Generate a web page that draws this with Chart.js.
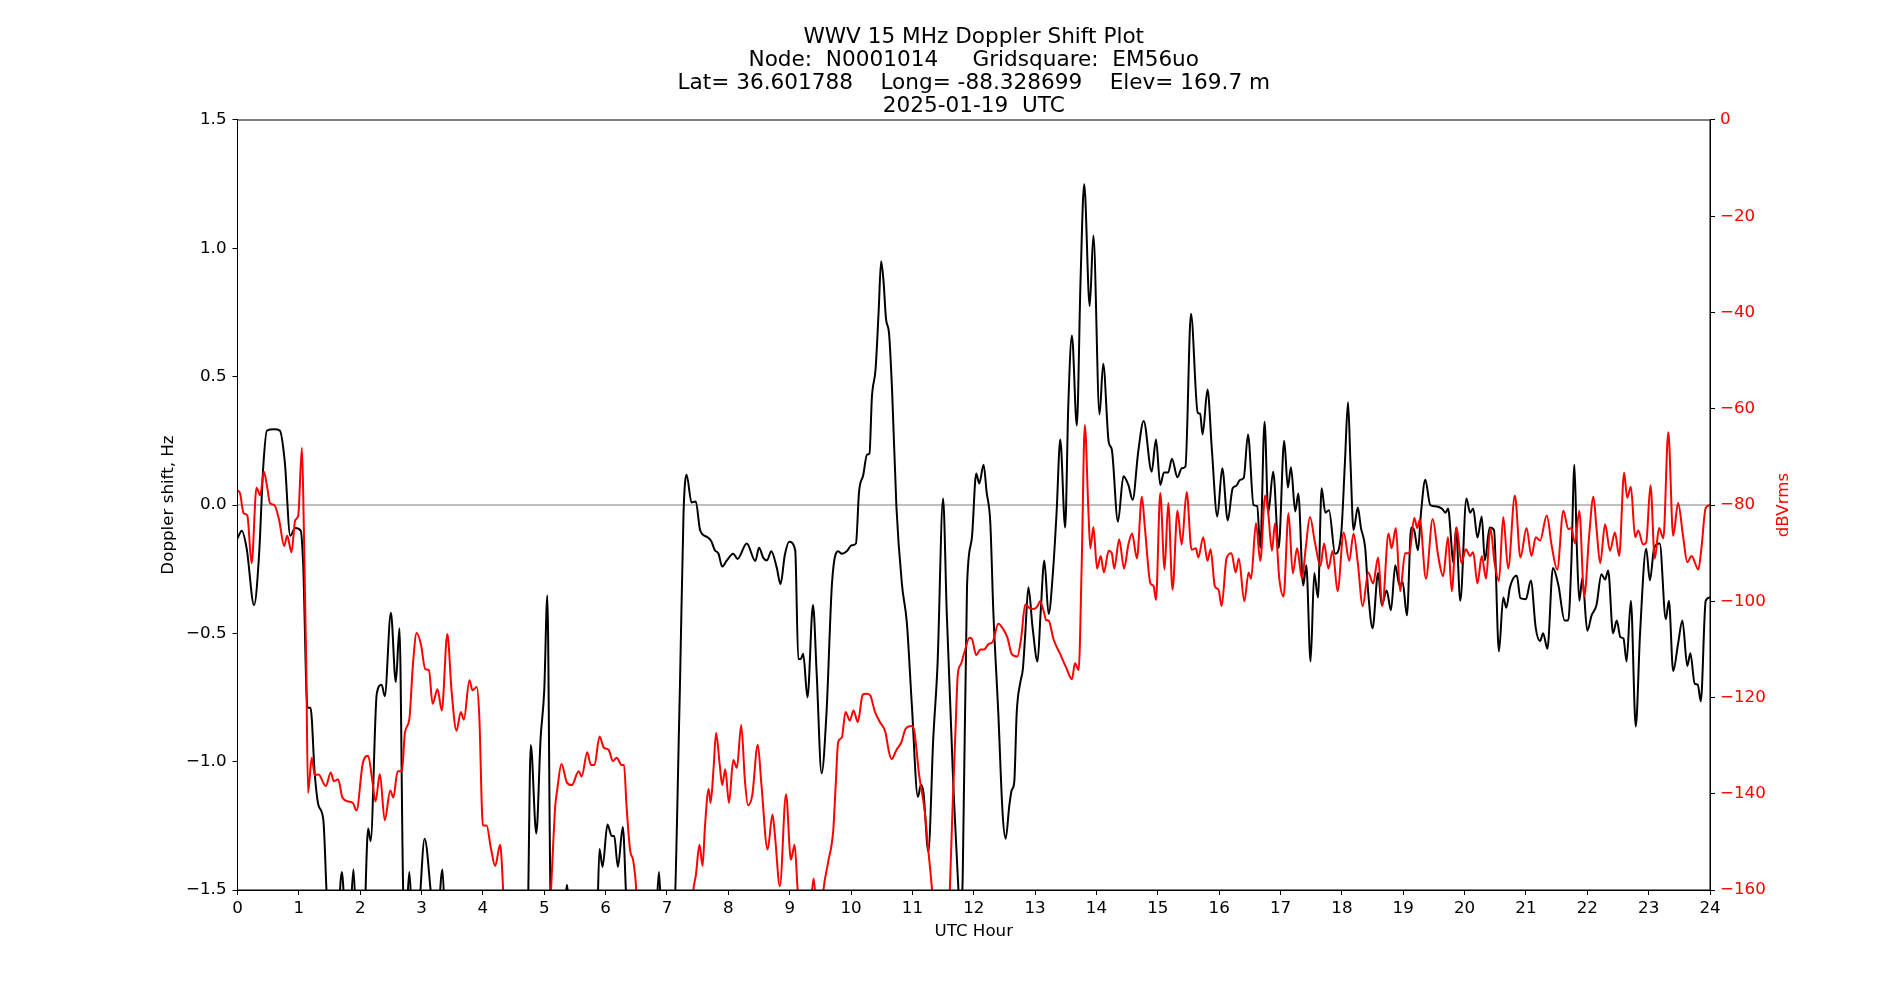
<!DOCTYPE html>
<html>
<head>
<meta charset="utf-8">
<title>WWV 15 MHz Doppler Shift Plot</title>
<script src="https://cdn.jsdelivr.net/npm/chart.js@4.4.1/dist/chart.umd.min.js"></script>
<style>
  html, body { margin: 0; padding: 0; background: #fff; }
  canvas { display: block; }
</style>
</head>
<body>
<canvas id="myChart" width="1900" height="1000"></canvas>
<script>
const titleLines = [
    'WWV 15 MHz Doppler Shift Plot',
    'Node:  N0001014     Gridsquare:  EM56uo',
    'Lat= 36.601788    Long= -88.328699    Elev= 169.7 m',
    '2025-01-19  UTC'
];

const hourTicks = [0, 1, 2, 3, 4, 5, 6, 7, 8, 9, 10, 11, 12, 13, 14, 15, 16, 17, 18, 19, 20, 21, 22, 23, 24];

// Doppler shift (Hz), black trace, left axis
const dopplerHours = [
    0.0, 0.07, 0.15, 0.27, 0.35, 0.42, 0.48, 0.6, 0.69, 0.77, 0.86, 0.94, 1.03, 1.07, 1.14, 1.19, 1.26, 1.32, 1.40, 1.45,
    1.5, 1.62, 1.70, 1.78, 1.83, 1.89, 1.95, 2.05, 2.13, 2.17, 2.27, 2.35, 2.40, 2.50, 2.58, 2.64, 2.70, 2.74, 2.80, 2.86,
    2.95, 3.05, 3.17, 3.25, 3.34, 3.40, 4.72, 4.78, 4.87, 4.94, 5.0, 5.05, 5.1, 5.15, 5.32, 5.37, 5.42, 5.85, 5.9, 5.95,
    6.03, 6.1, 6.14, 6.2, 6.28, 6.34, 6.4, 6.82, 6.87, 6.92, 7.1, 7.21, 7.27, 7.32, 7.40, 7.47, 7.54, 7.65, 7.72, 7.78,
    7.84, 7.9, 7.97, 8.08, 8.15, 8.3, 8.44, 8.5, 8.57, 8.63, 8.70, 8.79, 8.85, 8.92, 8.99, 9.09, 9.14, 9.18, 9.22, 9.29,
    9.38, 9.44, 9.52, 9.6, 9.69, 9.79, 9.85, 9.93, 10.01, 10.08, 10.13, 10.2, 10.26, 10.3, 10.34, 10.4, 10.45, 10.49, 10.53, 10.57,
    10.62, 10.67, 10.74, 10.83, 10.91, 10.99, 11.09, 11.14, 11.18, 11.26, 11.34, 11.41, 11.5, 11.56, 11.67, 11.74, 11.78, 11.82, 11.89, 11.97,
    12.04, 12.09, 12.16, 12.21, 12.27, 12.32, 12.4, 12.47, 12.52, 12.58, 12.62, 12.66, 12.70, 12.76, 12.8, 12.84, 12.89, 12.96, 13.04, 13.09,
    13.15, 13.22, 13.29, 13.35, 13.41, 13.49, 13.54, 13.6, 13.68, 13.74, 13.8, 13.89, 13.95, 14.05, 14.11, 14.2, 14.25, 14.35, 14.44, 14.52,
    14.59, 14.68, 14.77, 14.9, 14.97, 15.04, 15.1, 15.17, 15.23, 15.32, 15.39, 15.45, 15.54, 15.65, 15.69, 15.73, 15.81, 15.88, 15.97, 16.05,
    16.14, 16.22, 16.28, 16.34, 16.4, 16.47, 16.56, 16.62, 16.67, 16.74, 16.8, 16.88, 16.97, 17.06, 17.12, 17.17, 17.24, 17.29, 17.37, 17.42,
    17.49, 17.55, 17.61, 17.67, 17.73, 17.79, 17.89, 17.99, 18.05, 18.1, 18.14, 18.19, 18.26, 18.31, 18.38, 18.43, 18.5, 18.59, 18.65, 18.73,
    18.8, 18.87, 18.94, 18.99, 19.06, 19.13, 19.18, 19.24, 19.29, 19.36, 19.44, 19.52, 19.63, 19.69, 19.73, 19.82, 19.86, 19.93, 20.03, 20.09,
    20.14, 20.21, 20.28, 20.33, 20.41, 20.48, 20.56, 20.63, 20.68, 20.74, 20.85, 20.91, 21.0, 21.08, 21.16, 21.23, 21.28, 21.35, 21.44, 21.53,
    21.63, 21.69, 21.74, 21.79, 21.83, 21.87, 21.92, 22.0, 22.07, 22.15, 22.23, 22.29, 22.34, 22.42, 22.48, 22.54, 22.59, 22.64, 22.71, 22.79,
    22.86, 22.96, 23.02, 23.09, 23.18, 23.28, 23.33, 23.4, 23.48, 23.55, 23.63, 23.68, 23.75, 23.8, 23.85, 23.93, 24.0
];
const dopplerShift = [
    -0.13, -0.10, -0.17, -0.39, -0.20, 0.15, 0.29, 0.295, 0.29, 0.17, -0.12, -0.09, -0.10, -0.23, -0.79, -0.79, -1.05, -1.17, -1.23, -1.5,
    -1.75, -1.7, -1.43, -1.7, -1.65, -1.42, -1.7, -1.7, -1.26, -1.31, -0.735, -0.70, -0.745, -0.42, -0.69, -0.48, -1.5, -1.65, -1.43, -1.65,
    -1.6, -1.30, -1.55, -1.65, -1.42, -1.7, -1.7, -0.935, -1.28, -0.91, -0.72, -0.353, -1.5, -1.7, -1.6, -1.48, -1.6, -1.7, -1.34, -1.41,
    -1.245, -1.29, -1.29, -1.41, -1.255, -1.55, -1.7, -1.6, -1.43, -1.65, -1.65, -0.72, -0.03, 0.118, 0.01, 0.014, -0.098, -0.124, -0.14, -0.176,
    -0.19, -0.24, -0.218, -0.19, -0.21, -0.15, -0.218, -0.167, -0.206, -0.216, -0.18, -0.245, -0.308, -0.196, -0.143, -0.176, -0.6, -0.6, -0.58, -0.75,
    -0.39, -0.657, -1.045, -0.81, -0.304, -0.18, -0.19, -0.18, -0.157, -0.15, 0.05, 0.118, 0.196, 0.2, 0.42, 0.53, 0.755, 0.95, 0.87, 0.725,
    0.667, 0.44, -0.01, -0.31, -0.46, -0.775, -1.137, -1.09, -1.12, -1.35, -0.91, -0.62, 0.025, -0.42, -1.11, -1.45, -1.6, -1.45, -0.32, -0.127,
    0.123, 0.084, 0.157, 0.05, -0.07, -0.42, -0.81, -1.2, -1.3, -1.17, -1.11, -1.08, -0.81, -0.69, -0.64, -0.5, -0.32, -0.48, -0.61, -0.42,
    -0.216, -0.425, -0.265, -0.03, 0.255, -0.088, 0.38, 0.66, 0.31, 0.87, 1.25, 0.775, 1.05, 0.353, 0.55, 0.245, 0.216, -0.065, 0.112, 0.078,
    0.02, 0.206, 0.327, 0.13, 0.255, 0.078, 0.127, 0.127, 0.18, 0.108, 0.143, 0.15, 0.745, 0.36, 0.355, 0.275, 0.45, 0.22, -0.045, 0.143,
    -0.06, 0.065, 0.075, 0.098, 0.105, 0.275, 0.0, -0.005, -0.167, 0.324, -0.03, 0.13, -0.167, 0.25, 0.068, 0.147, -0.025, 0.045, -0.314, -0.235,
    -0.61, -0.265, -0.36, 0.065, -0.03, -0.02, -0.19, -0.108, 0.167, 0.4, 0.167, -0.098, -0.01, -0.088, -0.167, -0.343, -0.48, -0.265, -0.39, -0.333,
    -0.41, -0.235, -0.314, -0.3, -0.43, -0.088, -0.1, -0.176, -0.03, 0.098, 0.0, -0.005, -0.014, -0.03, -0.014, -0.225, -0.09, -0.373, 0.025, -0.03,
    -0.014, -0.127, -0.045, -0.216, -0.088, -0.098, -0.57, -0.36, -0.4, -0.32, -0.275, -0.363, -0.367, -0.294, -0.48, -0.53, -0.5, -0.56, -0.245, -0.314,
    -0.45, -0.45, -0.225, 0.157, -0.167, -0.373, -0.284, -0.49, -0.43, -0.39, -0.27, -0.29, -0.255, -0.5, -0.45, -0.515, -0.52, -0.61, -0.373, -0.863,
    -0.5, -0.17, -0.294, -0.167, -0.15, -0.445, -0.373, -0.647, -0.54, -0.45, -0.627, -0.578, -0.696, -0.7, -0.765, -0.373, -0.36
];

// received level (dBVrms), red trace, right axis
const powerHours = [
    0.0, 0.04, 0.1, 0.16, 0.23, 0.31, 0.37, 0.43, 0.48, 0.53, 0.6, 0.68, 0.76, 0.81, 0.88, 0.94, 0.99, 1.05, 1.08, 1.12,
    1.15, 1.21, 1.26, 1.32, 1.44, 1.52, 1.57, 1.64, 1.71, 1.81, 1.88, 1.94, 2.04, 2.13, 2.19, 2.25, 2.32, 2.40, 2.49, 2.54,
    2.61, 2.68, 2.73, 2.80, 2.86, 2.92, 2.99, 3.06, 3.12, 3.18, 3.26, 3.33, 3.42, 3.49, 3.57, 3.64, 3.69, 3.78, 3.83, 3.9,
    3.94, 4.0, 4.06, 4.13, 4.2, 4.28, 4.33, 4.38, 5.05, 5.11, 5.18, 5.21, 5.28, 5.37, 5.45, 5.56, 5.61, 5.7, 5.76, 5.82,
    5.9, 5.97, 6.05, 6.12, 6.18, 6.26, 6.30, 6.34, 6.40, 6.45, 6.50, 6.56, 7.36, 7.43, 7.47, 7.53, 7.58, 7.62, 7.68, 7.71,
    7.76, 7.8, 7.86, 7.9, 7.95, 8.01, 8.08, 8.14, 8.21, 8.27, 8.32, 8.39, 8.48, 8.54, 8.64, 8.72, 8.76, 8.84, 8.94, 9.02,
    9.08, 9.13, 9.2, 9.33, 9.39, 9.44, 9.5, 9.55, 9.63, 9.71, 9.75, 9.79, 9.85, 9.91, 9.98, 10.04, 10.11, 10.19, 10.25, 10.31,
    10.39, 10.47, 10.56, 10.62, 10.66, 10.74, 10.82, 10.89, 10.99, 11.03, 11.11, 11.2, 11.26, 11.32, 11.38, 11.56, 11.61, 11.65, 11.7, 11.74,
    11.79, 11.85, 11.93, 11.97, 12.04, 12.11, 12.17, 12.24, 12.31, 12.4, 12.48, 12.55, 12.62, 12.71, 12.77, 12.84, 12.91, 12.98, 13.04, 13.08,
    13.14, 13.18, 13.22, 13.3, 13.41, 13.51, 13.6, 13.65, 13.71, 13.76, 13.81, 13.87, 13.9, 13.95, 14.01, 14.07, 14.12, 14.2, 14.25, 14.29,
    14.37, 14.45, 14.52, 14.58, 14.66, 14.74, 14.79, 14.88, 14.93, 14.97, 15.04, 15.11, 15.17, 15.24, 15.32, 15.39, 15.47, 15.55, 15.62, 15.66,
    15.74, 15.81, 15.86, 15.93, 15.99, 16.04, 16.12, 16.2, 16.27, 16.32, 16.41, 16.48, 16.52, 16.6, 16.67, 16.75, 16.8, 16.86, 16.91, 16.98,
    17.05, 17.13, 17.2, 17.27, 17.35, 17.41, 17.48, 17.56, 17.65, 17.71, 17.78, 17.85, 17.93, 18.03, 18.12, 18.19, 18.26, 18.34, 18.43, 18.51,
    18.59, 18.66, 18.76, 18.81, 18.88, 18.95, 19.03, 19.1, 19.18, 19.23, 19.27, 19.37, 19.48, 19.57, 19.65, 19.73, 19.79, 19.87, 19.95, 20.02,
    20.09, 20.14, 20.21, 20.28, 20.35, 20.42, 20.49, 20.56, 20.63, 20.71, 20.82, 20.91, 21.01, 21.09, 21.16, 21.23, 21.34, 21.42, 21.51, 21.61,
    21.69, 21.74, 21.8, 21.87, 21.95, 22.03, 22.1, 22.15, 22.21, 22.29, 22.37, 22.45, 22.52, 22.6, 22.65, 22.71, 22.78, 22.83, 22.91, 22.96,
    23.03, 23.1, 23.17, 23.24, 23.32, 23.4, 23.48, 23.56, 23.63, 23.7, 23.81, 23.86, 23.93, 24.0
];
const powerDb = [
    -77, -77.5, -81.7, -82.2, -92.1, -76.4, -78, -73.1, -76, -79.6, -80, -83.2, -88.5, -86.4, -89.8, -83.2, -82.2, -68.1, -83.8, -113,
    -139.8, -132.5, -136.1, -136, -138.4, -135.6, -137.4, -137, -140.8, -141.6, -141.9, -143.5, -133.8, -132.1, -136.6, -141.6, -135.9, -145.5, -139.3, -140.8,
    -135.3, -135.3, -127.2, -124.6, -113, -106.6, -109, -114.1, -114.3, -121.3, -118.3, -122.7, -106.8, -118.8, -126.9, -123, -124.6, -116.4, -118.5, -117.8,
    -123.6, -146.6, -146.6, -151.3, -155, -150.6, -160, -175, -175, -160, -142.4, -139.3, -133.8, -137.7, -138.2, -135.3, -136.4, -131.4, -134, -134,
    -128.1, -130.4, -130.9, -133.2, -132.5, -134, -134, -142.4, -151.8, -153.9, -160, -175, -175, -160, -157, -150.6, -155, -146.6, -139, -141.9,
    -134.6, -127.4, -134, -138.2, -134.9, -141.9, -133, -134.6, -125.7, -137.2, -142.4, -140.3, -129.8, -138.2, -151.6, -144.3, -148.7, -159.2, -140.1, -153.7,
    -150.6, -160, -170, -165, -157.6, -165, -168, -160, -154, -147.6, -138.2, -129.3, -128.3, -123, -124.8, -122.7, -125.1, -119.4, -119.2, -119.5,
    -123, -125.1, -127.2, -131.4, -132.8, -130.9, -129.3, -126.5, -125.9, -126.9, -136.1, -143.5, -151.8, -160, -172, -172, -160, -144.5, -127.7, -115.2,
    -113.1, -110.5, -107.6, -107.8, -111.2, -110, -110, -108.9, -108.4, -104.7, -105.8, -107.6, -111, -111.5, -107.9, -100.7, -101.4, -101.6, -101, -100,
    -102.1, -103.9, -104, -107.9, -111, -113.9, -116.2, -112.9, -114.3, -92.1, -63.4, -81.7, -89, -84.6, -93.2, -90.6, -94, -89.5, -90, -93.2,
    -87.1, -93.2, -88.2, -85.9, -91.1, -78.3, -84.8, -96.3, -96.8, -99.7, -77.5, -93.4, -79.6, -97.6, -81.2, -88.2, -77.3, -89.3, -89, -90.9,
    -86.7, -91.6, -89.2, -96.9, -97.6, -101, -91.1, -90, -94, -91.1, -100, -94, -95.3, -83.8, -91.6, -78, -81.7, -89.5, -83.8, -95.3,
    -99, -81.7, -94.2, -89, -95.3, -89, -82.5, -87.7, -92.7, -88, -93.2, -89.5, -97.9, -85.7, -91.6, -85.9, -92.1, -101, -94, -96.3,
    -90.9, -101, -85.9, -89, -84.8, -97.9, -90, -90, -82.7, -84.8, -83, -95.3, -82.9, -90.6, -94.8, -86.7, -97.9, -84.6, -92.1, -89.2,
    -90.6, -89.8, -96.3, -90.6, -95.3, -84.8, -92.1, -95.8, -82.5, -93.2, -78, -90.9, -84.8, -90.6, -86.7, -87.4, -82.2, -88.5, -93.4, -81.2,
    -85, -84.8, -88, -81.2, -99, -86.4, -78.3, -84.8, -92.1, -84, -89.5, -85.7, -90.6, -73.3, -78.5, -76.2, -86.7, -85.3, -88.2, -87.8,
    -75.9, -91.1, -84.8, -86.9, -64.9, -86.4, -79.6, -86.4, -91.9, -90.6, -93.4, -89, -80.6, -80
];

const toPoints = (xs, ys) => xs.map((x, i) => ({ x: x, y: ys[i] }));
const minus = s => String(s).replace('-', '\u2212');

Chart.defaults.font.family = 'DejaVu Sans';
Chart.defaults.color = '#000';

// frame, zero line and the right axis label (matplotlib reads it bottom-up)
const framePlugin = {
    id: 'frame',
    beforeDatasetsDraw(chart) {
        const { ctx, chartArea, scales } = chart;
        const y0 = scales.y.getPixelForValue(0);
        ctx.save();
        ctx.strokeStyle = '#808080';
        ctx.lineWidth = 1.2;
        ctx.beginPath();
        ctx.moveTo(chartArea.left, y0);
        ctx.lineTo(chartArea.right, y0);
        ctx.stroke();
        ctx.restore();
    },
    afterDraw(chart) {
        const { ctx, chartArea } = chart;
        ctx.save();
        ctx.strokeStyle = '#000';
        ctx.lineWidth = 1;
        ctx.strokeRect(chartArea.left, chartArea.top, chartArea.right - chartArea.left, chartArea.bottom - chartArea.top);
        ctx.translate(1783.5, (chartArea.top + chartArea.bottom) / 2);
        ctx.rotate(-Math.PI / 2);
        ctx.fillStyle = 'red';
        ctx.font = '16.7px "DejaVu Sans"';
        ctx.textAlign = 'center';
        ctx.textBaseline = 'middle';
        ctx.fillText('dBVrms', 0, 0);
        ctx.restore();
    }
};

const config = {
    type: 'line',
    data: {
        datasets: [{
            label: 'Doppler shift',
            data: toPoints(dopplerHours, dopplerShift),
            borderColor: '#000',
            borderWidth: 2,
            pointRadius: 0,
            cubicInterpolationMode: 'monotone',
            yAxisID: 'y',
            order: 1
        }, {
            label: 'dBVrms',
            data: toPoints(powerHours, powerDb),
            borderColor: 'red',
            borderWidth: 2,
            pointRadius: 0,
            cubicInterpolationMode: 'monotone',
            yAxisID: 'y1',
            order: 0
        }]
    },
    options: {
        responsive: false,
        animation: false,
        events: [],
        layout: { padding: { left: 47.5, right: 0, top: 0, bottom: 0 } },
        plugins: {
            legend: { display: false },
            tooltip: { enabled: false },
            title: {
                display: true,
                text: titleLines,
                color: '#000',
                font: { size: 21.6, weight: 'normal', lineHeight: 23 / 21.6 },
                padding: { top: 26, bottom: 2 }
            }
        },
        scales: {
            x: {
                type: 'linear',
                min: 0,
                max: 24,
                afterBuildTicks: scale => { scale.ticks = hourTicks.map(v => ({ value: v })); },
                afterFit: scale => { scale.height = 110; },
                ticks: { font: { size: 16.7 }, padding: 4, maxRotation: 0, autoSkip: false },
                grid: { drawOnChartArea: false, drawTicks: true, tickLength: 5, color: '#000' },
                border: { display: true, color: '#000', width: 1 },
                title: { display: true, text: 'UTC Hour', font: { size: 16.7 }, padding: { top: 0, bottom: 58.5 } }
            },
            y: {
                position: 'left',
                min: -1.5,
                max: 1.5,
                afterFit: scale => { scale.width = 190; },
                ticks: { stepSize: 0.5, font: { size: 16.7 }, padding: 6, callback: v => minus(v.toFixed(1)) },
                grid: { drawOnChartArea: false, drawTicks: true, tickLength: 5, color: '#000' },
                border: { display: true, color: '#000', width: 1 },
                title: { display: true, text: 'Doppler shift, Hz', font: { size: 16.7 }, padding: { top: 110.7, bottom: 0 } }
            },
            y1: {
                position: 'right',
                min: -160,
                max: 0,
                afterFit: scale => { scale.width = 190; },
                ticks: { stepSize: 20, color: 'red', font: { size: 16.7 }, padding: 5, callback: v => minus(v) },
                grid: { drawOnChartArea: false, drawTicks: true, tickLength: 5, color: '#000' },
                border: { display: true, color: '#000', width: 1 }
            }
        }
    },
    plugins: [framePlugin]
};

const myChart = new Chart(document.getElementById('myChart'), config);
</script>
</body>
</html>
